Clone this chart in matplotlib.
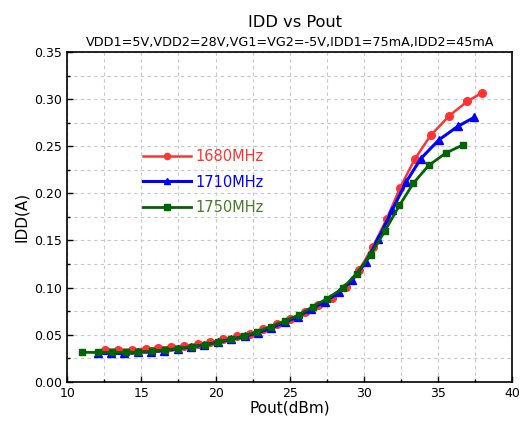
import numpy as np
import matplotlib
matplotlib.use('Agg')
import matplotlib.pyplot as plt
from matplotlib.ticker import MultipleLocator

# Datos
pout_1680 = [12.54, 13.44, 14.34, 15.28, 16.09, 16.99, 17.89, 18.79, 19.62, 20.52,
             21.42, 22.32, 23.22, 24.12, 25.02, 26.03, 26.93, 27.83, 28.80, 29.69,
             30.59, 31.54, 32.44, 33.43, 34.50, 35.76, 36.98, 37.94]
idd_1680 = [0.034, 0.034, 0.034, 0.035, 0.036, 0.037, 0.038, 0.040, 0.042, 0.045,
            0.048, 0.051, 0.056, 0.061, 0.067, 0.074, 0.081, 0.089, 0.101, 0.119,
            0.143, 0.173, 0.206, 0.2365, 0.2617, 0.2826, 0.2979, 0.3067]

pout_1710 = [12.05, 12.95, 13.85, 14.75, 15.65, 16.55, 17.45, 18.35, 19.25, 20.15,
             21.05, 21.95, 22.85, 23.75, 24.65, 25.55, 26.46, 27.38, 28.34, 29.20,
             30.14, 30.97, 31.92, 32.84, 33.83, 35.04, 36.33, 37.45]
idd_1710 = [0.030, 0.030, 0.030, 0.031, 0.032, 0.033, 0.035, 0.037, 0.039, 0.042,
            0.045, 0.048, 0.052, 0.057, 0.063, 0.069, 0.0773, 0.0851, 0.095, 0.1078,
            0.1273, 0.1518, 0.1826, 0.212, 0.2369, 0.2567, 0.2713, 0.2809]

pout_1750 = [11.03, 12.05, 12.99, 13.96, 14.74, 15.69, 16.61, 17.49, 18.39, 19.28,
             20.18, 21.04, 21.92, 22.81, 23.71, 24.66, 25.60, 26.55, 27.49, 28.57,
             29.51, 30.46, 31.42, 32.39, 33.34, 34.37, 35.52, 36.66]
idd_1750 = [0.0312, 0.031, 0.031, 0.031, 0.031, 0.0326, 0.0337, 0.0351, 0.0372, 0.039,
            0.0418, 0.045, 0.0486, 0.0528, 0.0585, 0.0645, 0.0706, 0.0798, 0.0879, 0.0993,
            0.1149, 0.1351, 0.1603, 0.1872, 0.211, 0.2298, 0.2429, 0.2514]

etiquetas = ['1680MHz', '1710MHz', '1750MHz']

fig = plt.figure(figsize=(5.21, 4.21), dpi=100)
ax = fig.add_axes([0.129, 0.0934, 0.8543, 0.7826])

ax.plot(pout_1680, idd_1680, color='#ff3333', lw=1.8, marker='o', ms=5.5, label=etiquetas[0])
ax.plot(pout_1710, idd_1710, color='#0000ff', lw=2.2, marker='^', ms=6, label=etiquetas[1])
ax.plot(pout_1750, idd_1750, color='#006400', lw=2.0, marker='s', ms=5, label=etiquetas[2])

ax.set_xlim(10, 40)
ax.set_ylim(0, 0.35)
ax.xaxis.set_major_locator(MultipleLocator(5))
ax.xaxis.set_minor_locator(MultipleLocator(2.5))
ax.yaxis.set_major_locator(MultipleLocator(0.05))
ax.yaxis.set_minor_locator(MultipleLocator(0.025))
ax.yaxis.set_major_formatter(plt.FormatStrFormatter('%.2f'))
ax.tick_params(which='both', direction='in', top=False, right=False, labelsize=9)
ax.tick_params(which='major', length=4, width=1, pad=4)
ax.tick_params(which='minor', length=2.5, width=1)
ax.grid(True, which='both', ls=(0, (3, 3)), color='#c8c8c8', lw=0.8)
for s in ax.spines.values():
    s.set_linewidth(1.2)

ax.set_xlabel('Pout(dBm)', fontsize=11, labelpad=0)
ax.set_ylabel('IDD(A)', fontsize=11, labelpad=3)
fig.text(0.566, 0.946, 'IDD vs Pout', ha='center', va='center', fontsize=11.7)
fig.text(0.557, 0.898, 'VDD1=5V,VDD2=28V,VG1=VG2=-5V,IDD1=75mA,IDD2=45mA',
         ha='center', va='center', fontsize=9.2)

leg = ax.legend(loc='upper left', bbox_to_anchor=(0.14, 0.745), frameon=False,
                fontsize=10.5, handlelength=3.3, handletextpad=0.3, labelspacing=0.7,
                markerscale=0.8)
for t, c in zip(leg.get_texts(), ['#ff3333', '#0000ff', '#4d7a2a']):
    t.set_color(c)

plt.savefig('out.png', dpi=100)
